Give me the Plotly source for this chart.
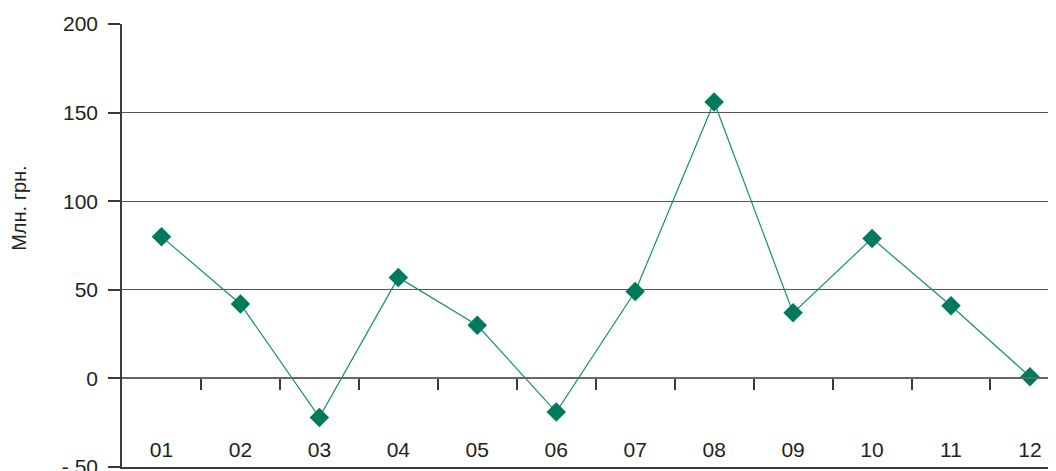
import plotly.graph_objects as go

MONTHS = ["01", "02", "03", "04", "05", "06", "07", "08", "09", "10", "11", "12"]
VALUES = [80, 42, -22, 57, 30, -19, 49, 156, 37, 79, 41, 1]
Y_TICKS = [-50, 0, 50, 100, 150, 200]
Y_TICK_TEXT = ["- 50", "0", "50", "100", "150", "200"]

GREEN = "#007A5C"
LINE_GREEN = "#14906E"
AXIS = "#3A3A3A"
FONT = "Liberation Sans, Arial, sans-serif"

x = list(range(len(MONTHS)))
x_range = [-0.5, 11.33]
y_range = [Y_TICKS[0], Y_TICKS[-1]]

fig = go.Figure(go.Scatter(
    x=x, y=VALUES,
    mode="lines+markers",
    line=dict(color=LINE_GREEN, width=1.2),
    marker=dict(symbol="diamond", size=15, color=GREEN),
    hovertemplate="%{text}: %{y}<extra></extra>",
    text=MONTHS,
))

# page body has an 8px margin; the figure runs past the window bottom a bit
fig.update_layout(
    width=1048, height=490,
    margin=dict(l=114, r=0, t=16, b=31),
    paper_bgcolor="white",
    plot_bgcolor="white",
    showlegend=False,
    font=dict(family=FONT, color="#222222", size=21),
    xaxis=dict(
        range=x_range,
        tickvals=x, ticktext=MONTHS,
        # month labels pulled up above the bottom line
        ticks="", ticklabelposition="outside", ticklabelstandoff=-37,
        ticklabeloverflow="allow",
        showgrid=False, zeroline=False,
        showline=True, linecolor=AXIS, linewidth=1.5,
        tickfont=dict(size=21),
    ),
    xaxis2=dict(
        overlaying="x", anchor="free", position=0.2,
        range=x_range,
        tickvals=[i + 0.5 for i in x[:-1]],
        ticks="outside", ticklen=11, tickwidth=1.5, tickcolor=AXIS,
        showticklabels=False, showgrid=False, zeroline=False,
        showline=True, linecolor="#666666", linewidth=1.5,
    ),
    yaxis=dict(
        range=y_range,
        tickvals=Y_TICKS, ticktext=Y_TICK_TEXT,
        ticks="outside", ticklen=12, tickwidth=1.5, tickcolor=AXIS,
        ticklabelstandoff=6, ticklabeloverflow="allow",
        showgrid=True, gridcolor="#555555", gridwidth=1,
        zeroline=False,
        showline=True, linecolor=AXIS, linewidth=1.5,
        tickfont=dict(size=21),
    ),
    annotations=[dict(
        text="Млн. грн.", textangle=-90,
        xref="paper", yref="paper", x=0, y=0.585,
        xshift=-116, showarrow=False,
        font=dict(size=20, family=FONT, color="#222222"),
    )],
)

# invisible trace so the tick axis at zero is drawn
fig.add_trace(go.Scatter(x=[x[0]], y=[0], xaxis="x2", mode="markers",
                         marker=dict(opacity=0), hoverinfo="skip"))

fig.write_html("out.html")
